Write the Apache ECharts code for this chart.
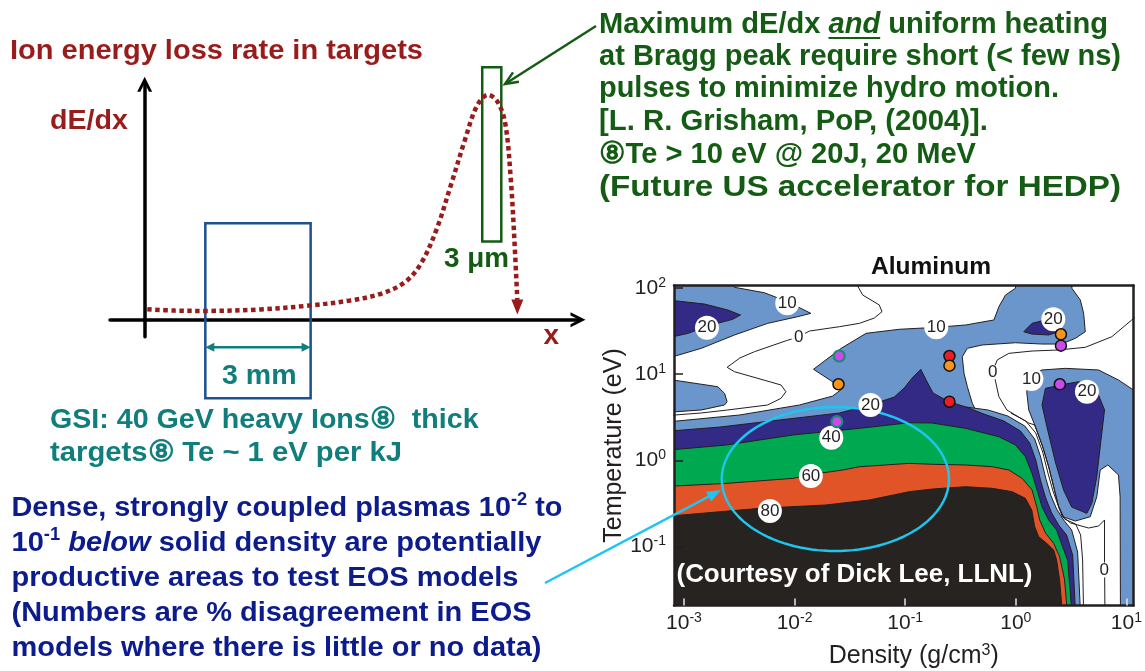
<!DOCTYPE html>
<html>
<head>
<meta charset="utf-8">
<title>Ion energy loss rate and EOS disagreement map</title>
<script src="https://cdn.jsdelivr.net/npm/echarts@6/dist/echarts.min.js"></script>
<style>
html, body { margin: 0; padding: 0; background: #ffffff; }
#chart { width: 1145px; height: 671px; }
</style>
</head>
<body>
<div id="chart"></div>
<script>
// ---------- Bragg-curve schematic (arbitrary units: x = depth, y = dE/dx) ----------
const braggCurve = [
  [0.06, 0.38], [0.70, 0.33], [1.43, 0.32], [2.66, 0.37], [3.73, 0.50], [4.74, 0.69],
  [5.49, 0.95], [6.02, 1.36], [6.38, 2.02], [6.73, 3.20], [7.08, 4.87], [7.39, 6.41],
  [7.66, 7.60], [7.92, 8.02], [8.14, 7.78], [8.32, 7.01], [8.45, 4.99], [8.54, 2.61], [8.60, 0.71]
];
const thickTargetX = [1.40, 3.83];
const thickTargetY = [-2.79, 3.44];
const peakTargetX = [7.79, 8.23];
const peakTargetY = [2.79, 9.00];
const thickTargetSpanY = -0.98;

// ---------- Aluminum EOS disagreement map: [log10 density (g/cm3), log10 temperature (eV)] ----------
const densityTicks = [-3, -2, -1, 0, 1];
const temperatureTicks = [-1, 0, 1, 2];

// regions below 10 % disagreement
const whiteUpperLeft = [
  [-2.586, 2.2], [0.009, 2.2], [-0.003, 1.997], [-0.093, 1.919], [-0.153, 1.783], [-0.198, 1.629],
  [-0.453, 1.571], [-0.714, 1.544], [-1.054, 1.521], [-1.354, 1.474], [-1.579, 1.300], [-1.829, 1.057],
  [-1.565, 0.836], [-1.655, 0.747], [-1.955, 0.643], [-2.495, 0.527], [-3.2, 0.44], [-3.2, 0.553],
  [-2.844, 0.585], [-2.633, 0.643], [-2.610, 0.681], [-2.633, 0.778], [-2.694, 0.855], [-3.2, 0.952],
  [-3.2, 1.165], [-2.844, 1.300], [-2.543, 1.455], [-2.243, 1.590], [-1.973, 1.667], [-1.853, 1.706],
  [-2.063, 1.841], [-2.273, 1.945], [-2.543, 2.008]
];
const whiteRight = [
  [0.507, 2.2], [1.2, 2.2], [1.2, -1.8], [0.207, -1.8], [-0.063, -0.459], [-0.213, 0.237],
  [-0.258, 0.314], [-0.318, 0.469], [-0.393, 0.662], [-0.438, 0.855], [-0.468, 1.010], [-0.484, 1.203],
  [-0.438, 1.300], [-0.304, 1.339], [-0.003, 1.365], [0.237, 1.350], [0.412, 1.350], [0.538, 1.416],
  [0.628, 1.493], [0.613, 1.707], [0.583, 1.861], [0.507, 1.997]
];
// 10-20 % pocket at high density
const lightRight = [
  [0.099, 0.794], [0.117, 0.933], [0.171, 1.014], [0.237, 1.049], [0.448, 1.068], [0.748, 1.049],
  [0.928, 0.933], [1.2, 0.70], [1.2, -1.8], [0.946, -1.8], [0.943, -0.421], [0.928, -0.169],
  [0.832, -0.053], [0.763, -0.111], [0.732, -0.421], [0.673, -0.653], [0.538, -0.703], [0.423, -0.653],
  [0.387, -0.537], [0.342, -0.305], [0.297, -0.073], [0.243, 0.159], [0.171, 0.411], [0.117, 0.585]
];
const lightEdge = [
  [-0.450, 0.619], [-0.252, 0.585], [-0.072, 0.515], [0.081, 0.399], [0.171, 0.248], [0.225, 0.039],
  [0.270, -0.204], [0.315, -0.401], [0.369, -0.564], [0.432, -0.691], [0.505, -0.807], [0.559, -1.063],
  [0.586, -1.8], [-0.514, -1.8]
];
// 20-40 %
const navyTopLeft = [
  [-3.2, 1.869], [-2.814, 1.814], [-2.604, 1.745], [-2.489, 1.687], [-2.559, 1.637],
  [-2.754, 1.571], [-2.964, 1.474], [-3.2, 1.405]
];
const navyTopRight = [
  [0.072, 1.493], [0.147, 1.590], [0.268, 1.629], [0.358, 1.590], [0.387, 1.493], [0.297, 1.455], [0.147, 1.466]
];
const navyRight = [
  [0.268, 0.836], [0.448, 0.886], [0.568, 0.913], [0.718, 0.855], [0.778, 0.662], [0.802, 0.585],
  [0.763, 0.159], [0.732, -0.189], [0.687, -0.498], [0.642, -0.614], [0.505, -0.541], [0.432, -0.343],
  [0.360, -0.030], [0.288, 0.353], [0.237, 0.643]
];
const navyBand = [
  [-3.2, 0.333], [-2.676, 0.387], [-2.135, 0.469], [-1.595, 0.550], [-1.315, 0.643], [-1.099, 0.735],
  [-1.009, 0.840], [-0.937, 0.956], [-0.859, 1.057], [-0.811, 0.933], [-0.748, 0.782], [-0.604, 0.681],
  [-0.450, 0.619], [-0.288, 0.538], [-0.108, 0.457], [0.042, 0.341], [0.126, 0.202], [0.180, 0.005],
  [0.225, -0.239], [0.270, -0.436], [0.324, -0.610], [0.387, -0.749], [0.459, -0.865], [0.514, -1.097],
  [0.541, -1.8], [-3.2, -1.8]
];
// 40-60 %
const greenBand = [
  [-3.2, 0.113], [-2.615, 0.179], [-2.015, 0.295], [-1.414, 0.372], [-0.964, 0.437], [-0.757, 0.434],
  [-0.453, 0.372], [-0.153, 0.275], [-0.003, 0.179], [0.087, 0.043], [0.147, -0.150], [0.192, -0.343],
  [0.237, -0.537], [0.297, -0.691], [0.369, -0.807], [0.423, -1.001], [0.468, -1.155], [0.509, -1.8], [-3.2, -1.8]
];
// 60-80 %
const orangeBand = [
  [-3.2, -0.305], [-2.615, -0.266], [-2.015, -0.208], [-1.775, -0.150], [-1.565, -0.111], [-1.414, -0.073],
  [-0.964, -0.034], [-0.754, -0.045], [-0.453, -0.053], [-0.213, -0.073], [-0.063, -0.111], [0.057, -0.208],
  [0.147, -0.343], [0.189, -0.537], [0.216, -0.691], [0.270, -0.846], [0.342, -0.962], [0.396, -1.117],
  [0.441, -1.387], [0.468, -1.8], [-3.2, -1.8]
];
// above 80 %
const blackBand = [
  [-3.2, -0.653], [-2.315, -0.556], [-1.715, -0.517], [-1.324, -0.459], [-0.964, -0.363], [-0.754, -0.332],
  [-0.453, -0.305], [-0.213, -0.324], [-0.033, -0.363], [0.087, -0.440], [0.144, -0.575], [0.171, -0.769],
  [0.207, -0.885], [0.279, -0.962], [0.342, -1.039], [0.369, -1.155], [0.396, -1.387], [0.423, -1.8], [-3.2, -1.8]
];
// 0 % contours
const zeroLineLeft = [
  [-1.44, 2.05], [-1.385, 1.919], [-1.234, 1.803], [-1.210, 1.725], [-1.279, 1.652], [-1.414, 1.590],
  [-1.595, 1.551], [-1.865, 1.501], [-1.961, 1.435], [-2.075, 1.389], [-2.363, 1.261], [-2.495, 1.188],
  [-2.610, 1.080], [-2.543, 1.029], [-2.123, 0.875], [-2.078, 0.797], [-2.123, 0.720], [-2.243, 0.643],
  [-2.604, 0.585], [-2.846, 0.550], [-3.2, 0.515]
];
const zeroLineRight = [
  [1.15, 1.72], [1.048, 1.629], [0.868, 1.435], [0.628, 1.312], [0.387, 1.281], [0.147, 1.269],
  [-0.063, 1.242], [-0.168, 1.165], [-0.204, 1.049], [-0.189, 0.952], [-0.153, 0.739], [-0.081, 0.585],
  [0.027, 0.503], [0.117, 0.434], [0.171, 0.411], [0.243, 0.159], [0.297, -0.073], [0.342, -0.305],
  [0.387, -0.537], [0.423, -0.653], [0.495, -0.726], [0.658, -0.784], [0.748, -0.761], [0.802, -0.691],
  [0.802, -1.155], [0.806, -1.8]
];
const channelLine = [
  [-0.045, 0.550], [0.090, 0.457], [0.180, 0.318], [0.243, 0.097], [0.288, -0.135], [0.333, -0.343],
  [0.378, -0.506], [0.441, -0.680], [0.541, -0.738], [0.586, -0.865], [0.604, -1.155], [0.613, -1.8]
];
// contour value labels [log10 rho, log10 T, % disagreement]
const contourLabels = [
  [-2.066, 1.823, 10], [-2.792, 1.539, 20], [-1.962, 1.428, 0], [-0.719, 1.544, 10], [0.339, 1.637, 20],
  [-0.209, 1.022, 0], [0.141, 0.944, 10], [0.643, 0.797, 20], [-1.314, 0.643, 20], [-1.668, 0.263, 40],
  [-1.853, -0.181, 60], [-2.223, -0.587, 80], [0.799, -1.271, 0]
];
// experimental points
const redPoints = [[-0.600, 1.211], [-0.600, 0.681]];
const orangePoints = [[-1.603, 0.883], [-0.600, 1.099], [0.408, 1.463]];
const purplePoints = [[0.408, 1.331], [0.398, 0.883]];
const purpleRingPoints = [[-1.596, 1.211], [-1.618, 0.449]];
// strongly coupled regime highlighted on the map
const regimeCenter = [-1.631, -0.216];
const regimeHalfAxes = [1.027, 0.835];

// ---------- styling ----------
const FONT = '"Liberation Sans", Arial, Helvetica, sans-serif';
const COL = {
  ink: '#231f20', lightBlue: '#6a96cb', navy: '#332a85', green: '#00a84f', orange: '#e15427',
  black: '#272320', cyan: '#1ec6ef', red: '#ed1c24', dotOrange: '#f7941d', purple: '#c94bea', ring: '#1b8a78',
  darkRed: '#991c1c', darkGreen: '#145c14', teal: '#0f7e7c', navyText: '#0c1c8c', boxBlue: '#1d4f91'
};

const measureCtx = document.createElement('canvas').getContext('2d');
function measure(text, size, weight, style) {
  measureCtx.font = style + ' ' + weight + ' ' + size + 'px ' + FONT;
  return measureCtx.measureText(text).width;
}

// one line of slide text, fitted to a given width
function textLine(segs, left, midY, width, size, color) {
  const lh = Math.round(size * 1.2);
  const kinds = {
    n: { fontSize: size, fontWeight: 'bold', fontStyle: 'normal', lineHeight: lh },
    i: { fontSize: size, fontWeight: 'bold', fontStyle: 'italic', lineHeight: lh },
    s: { fontSize: Math.round(size * 0.62), fontWeight: 'bold', fontStyle: 'normal', lineHeight: Math.round(size * 0.62), verticalAlign: 'top' }
  };
  let natural = 0;
  const spans = [];
  segs.forEach(([t, k]) => {
    const d = kinds[k];
    const w = measure(t, d.fontSize, d.fontWeight, d.fontStyle);
    spans.push([natural, natural + w]);
    natural += w;
  });
  const sx = width ? width / natural : 1;
  const rich = {};
  Object.keys(kinds).forEach(k => { rich[k] = Object.assign({ fontFamily: FONT, fill: color }, kinds[k]); });
  return {
    el: {
      type: 'text', x: left, y: midY, scaleX: sx, z: 100, silent: true,
      style: {
        text: segs.map(([t, k]) => '{' + k + '|' + t + '}').join(''), rich,
        fill: color, fontFamily: FONT, fontSize: size, fontWeight: 'bold', align: 'left', verticalAlign: 'middle'
      }
    },
    spans: spans.map(([a, b]) => [left + a * sx, left + b * sx])
  };
}

function arrowEls(x1, y1, x2, y2, color, width, headLen, headWid, open) {
  const a = Math.atan2(y2 - y1, x2 - x1), c = Math.cos(a), s = Math.sin(a);
  const bx = x2 - headLen * c, by = y2 - headLen * s;
  const l = [bx - headWid / 2 * s, by + headWid / 2 * c], r = [bx + headWid / 2 * s, by - headWid / 2 * c];
  if (open) {
    return [
      { type: 'line', z: 100, silent: true, shape: { x1, y1, x2, y2 }, style: { stroke: color, lineWidth: width } },
      { type: 'polyline', z: 100, silent: true, shape: { points: [l, [x2, y2], r] }, style: { stroke: color, lineWidth: width, fill: 'none' } }
    ];
  }
  return [
    { type: 'line', z: 100, silent: true, shape: { x1, y1, x2: bx + 2 * c, y2: by + 2 * s }, style: { stroke: color, lineWidth: width } },
    { type: 'polygon', z: 100, silent: true, shape: { points: [[x2, y2], l, r] }, style: { fill: color } }
  ];
}

// ---------- series builders ----------
function regionSeries(points, fill, z) {
  return {
    type: 'custom', xAxisIndex: 0, yAxisIndex: 0, clip: true, silent: true, z,
    data: points, encode: { x: 0, y: 1 },
    renderItem(params, api) {
      if (params.dataIndex !== 0) return null;
      return {
        type: 'polygon',
        shape: { points: points.map(p => api.coord(p)) },
        style: { fill, stroke: COL.ink, lineWidth: 1 }
      };
    }
  };
}
function contourLine(points) {
  return {
    type: 'line', xAxisIndex: 0, yAxisIndex: 0, data: points, symbol: 'none', silent: true, z: 10,
    clip: true, lineStyle: { color: COL.ink, width: 1 }
  };
}
function pointSeries(points, fill, border, borderWidth) {
  return {
    type: 'scatter', xAxisIndex: 0, yAxisIndex: 0, data: points, symbol: 'circle', symbolSize: 11, silent: true, z: 13,
    itemStyle: { color: fill, borderColor: border, borderWidth, opacity: 1 }
  };
}

const powerLabel = v => '{b|10}{e|' + v + '}';
const powerRich = {
  b: { fontSize: 21, lineHeight: 24, color: COL.ink, fontFamily: FONT },
  e: { fontSize: 14, lineHeight: 12, verticalAlign: 'top', color: COL.ink, fontFamily: FONT }
};
const frameLine = { show: true, onZero: false, lineStyle: { color: COL.ink, width: 2.5 } };
const CHEVRON = 'path://M0,15 L7.5,0 L15,15 L11.8,15 L7.5,6.2 L3.2,15 Z';
const schematicAxis = {
  gridIndex: 1, type: 'value',
  axisLine: { show: true, onZero: true, symbol: ['none', CHEVRON], symbolSize: [15, 15], lineStyle: { color: '#000', width: 3.5 } },
  axisTick: { show: false }, axisLabel: { show: false }, splitLine: { show: false }
};

// ---------- slide text ----------
const graphics = [];
function addText(segs, left, midY, width, size, color) {
  const t = textLine(segs, left, midY, width, size, color);
  graphics.push(t.el);
  return t;
}
addText([['Ion energy loss rate in targets', 'n']], 10, 51, 413, 28.5, COL.darkRed);
addText([['dE/dx', 'n']], 50, 121, 78, 28.5, COL.darkRed);
addText([['x', 'n']], 543.5, 336, null, 28, COL.darkRed);
addText([['3 \u03bcm', 'n']], 444, 259.5, 65, 28, COL.darkGreen);
addText([['3 mm', 'n']], 222, 376.5, 74.6, 28, COL.teal);

const GS = 29.5;
const first = addText([['Maximum dE/dx ', 'n'], ['and', 'i'], [' uniform heating', 'n']], 599, 25, 509, GS, COL.darkGreen);
graphics.push({ type: 'line', z: 100, silent: true,
  shape: { x1: first.spans[1][0], y1: 25 + 13, x2: first.spans[1][1], y2: 25 + 13 },
  style: { stroke: COL.darkGreen, lineWidth: 2 } });
addText([['at Bragg peak require short (< few ns)', 'n']], 599, 57, 522, GS, COL.darkGreen);
addText([['pulses to minimize hydro motion.', 'n']], 599, 89, 460, GS, COL.darkGreen);
addText([['[L. R. Grisham, PoP, (2004)].', 'n']], 599, 122, 389, GS, COL.darkGreen);
addText([['\u2467Te > 10 eV @ 20J, 20 MeV', 'n']], 599, 155, 377, GS, COL.darkGreen);
addText([['(Future US accelerator for HEDP)', 'n']], 599, 188, 522, GS, COL.darkGreen);

addText([['GSI: 40 GeV heavy Ions\u2467  thick', 'n']], 50, 420, 428.6, 28.5, COL.teal);
addText([['targets\u2467 Te ~ 1 eV per kJ', 'n']], 50, 453.3, 352, 28.5, COL.teal);

addText([['Dense, strongly coupled plasmas 10', 'n'], ['-2', 's'], [' to', 'n']], 11.5, 508.3, 551, 28.5, COL.navyText);
addText([['10', 'n'], ['-1', 's'], [' ', 'n'], ['below', 'i'], [' solid density are potentially', 'n']], 11.5, 543.3, 530, 28.5, COL.navyText);
addText([['productive areas to test EOS models', 'n']], 11.5, 578.3, 507, 28.5, COL.navyText);
addText([['(Numbers are % disagreement in EOS', 'n']], 11.5, 613.3, 520, 28.5, COL.navyText);
addText([['models where there is little or no data)', 'n']], 11.5, 648.3, 530, 28.5, COL.navyText);

addText([['Aluminum', 'n']], 871, 267, 120, 24, '#111111');
addText([['(Courtesy of Dick Lee, LLNL)', 'n']], 676.5, 575, 356, 26, '#ffffff');

graphics.push(...arrowEls(596, 26, 505, 84, COL.darkGreen, 2.5, 13, 11, true));
graphics.push(...arrowEls(545, 583, 721, 490, COL.cyan, 2.5, 14, 11, false));

// ---------- option ----------
const option = {
  animation: false,
  backgroundColor: '#ffffff',
  grid: [
    { left: 674, top: 285.5, width: 461, height: 320, show: true, backgroundColor: COL.lightBlue, borderWidth: 0 },
    { left: 110, top: 84.2, width: 468, height: 252.5, show: false }
  ],
  xAxis: [
    {
      gridIndex: 0, type: 'value', min: -3.09, max: 1.063, position: 'bottom', z: 50,
      axisLine: frameLine,
      axisTick: { show: true, inside: true, length: 7, customValues: densityTicks, lineStyle: { color: '#e6e6e6', width: 1.5 } },
      axisLabel: { show: true, customValues: densityTicks, formatter: powerLabel, rich: powerRich, margin: 6 },
      splitLine: { show: false },
      name: '{a|Density (g/cm}{s|3}{a|)}', nameLocation: 'middle', nameGap: 37,
      nameTextStyle: {
        padding: [0, 0, 0, 20],
        rich: {
          a: { fontSize: 25, lineHeight: 28, color: COL.ink, fontFamily: FONT },
          s: { fontSize: 16, lineHeight: 16, verticalAlign: 'top', color: COL.ink, fontFamily: FONT }
        }
      }
    },
    {
      gridIndex: 0, type: 'value', min: -3.09, max: 1.063, position: 'top', z: 50,
      axisLine: frameLine, axisTick: { show: false }, axisLabel: { show: false }, splitLine: { show: false }
    },
    Object.assign({ min: -0.8, max: 10 }, schematicAxis)
  ],
  yAxis: [
    {
      gridIndex: 0, type: 'value', min: -1.683, max: 2.029, position: 'left', z: 50,
      axisLine: frameLine,
      axisTick: { show: true, inside: true, length: 9, customValues: temperatureTicks, lineStyle: { color: COL.ink, width: 1.5 } },
      axisLabel: { show: true, customValues: temperatureTicks, formatter: powerLabel, rich: powerRich, margin: 8 },
      splitLine: { show: false },
      name: 'Temperature (eV)', nameLocation: 'middle', nameGap: 40,
      nameTextStyle: { fontSize: 25, color: COL.ink, fontFamily: FONT }
    },
    {
      gridIndex: 0, type: 'value', min: -1.683, max: 2.029, position: 'right', z: 50,
      axisLine: frameLine, axisTick: { show: false }, axisLabel: { show: false }, splitLine: { show: false }
    },
    Object.assign({ min: -0.6, max: 8.4 }, schematicAxis)
  ],
  series: [
    regionSeries(whiteUpperLeft, '#ffffff', 3),
    regionSeries(whiteRight, '#ffffff', 3),
    regionSeries(lightRight, COL.lightBlue, 4),
    regionSeries(navyTopLeft, COL.navy, 5),
    regionSeries(navyTopRight, COL.navy, 5),
    regionSeries(navyRight, COL.navy, 5),
    regionSeries(lightEdge, COL.lightBlue, 5),
    regionSeries(navyBand, COL.navy, 6),
    regionSeries(greenBand, COL.green, 7),
    regionSeries(orangeBand, COL.orange, 8),
    regionSeries(blackBand, COL.black, 9),
    contourLine(zeroLineLeft),
    contourLine(zeroLineRight),
    contourLine(channelLine),
    {
      type: 'custom', xAxisIndex: 0, yAxisIndex: 0, clip: true, silent: true, z: 11,
      data: [regimeCenter], encode: { x: 0, y: 1 },
      renderItem(params, api) {
        const c = api.coord(regimeCenter);
        const size = api.size(regimeHalfAxes, regimeCenter);
        const pts = [];
        for (let i = 0; i <= 120; i++) {
          const t = i / 120 * Math.PI * 2;
          pts.push([c[0] + size[0] * Math.cos(t), c[1] + size[1] * Math.sin(t)]);
        }
        return { type: 'polyline', shape: { points: pts }, style: { stroke: COL.cyan, lineWidth: 2.5, fill: 'none' } };
      }
    },
    {
      type: 'scatter', xAxisIndex: 0, yAxisIndex: 0, silent: true, z: 12,
      data: contourLabels.map(d => ({ value: d, symbolSize: d[2] === 0 ? 15 : 24 })),
      symbol: 'circle', itemStyle: { color: '#ffffff', opacity: 1 },
      label: { show: true, position: 'inside', formatter: p => String(p.value[2]), color: COL.ink, fontSize: 17, fontFamily: FONT }
    },
    pointSeries(redPoints, COL.red, '#111111', 1.5),
    pointSeries(orangePoints, COL.dotOrange, '#111111', 1.5),
    pointSeries(purplePoints, COL.purple, '#111111', 1.5),
    pointSeries(purpleRingPoints, COL.purple, COL.ring, 2.2),

    // schematic
    {
      type: 'custom', xAxisIndex: 2, yAxisIndex: 2, clip: false, silent: true, z: 4,
      data: [[thickTargetX[0], thickTargetY[0]]], encode: { x: 0, y: 1 },
      renderItem(params, api) {
        const box = (xs, ys, color) => {
          const p0 = api.coord([xs[0], ys[1]]), p1 = api.coord([xs[1], ys[0]]);
          return { type: 'rect', shape: { x: p0[0], y: p0[1], width: p1[0] - p0[0], height: p1[1] - p0[1] },
            style: { fill: 'none', stroke: color, lineWidth: 2.5 } };
        };
        const a = api.coord([thickTargetX[0], thickTargetSpanY]);
        const b = api.coord([thickTargetX[1], thickTargetSpanY]);
        const h = 9, w = 4.5;
        return {
          type: 'group',
          children: [
            box(thickTargetX, thickTargetY, COL.boxBlue),
            box(peakTargetX, peakTargetY, COL.darkGreen),
            { type: 'line', shape: { x1: a[0] + h - 1, y1: a[1], x2: b[0] - h + 1, y2: b[1] }, style: { stroke: COL.teal, lineWidth: 2.5 } },
            { type: 'polygon', shape: { points: [[a[0], a[1]], [a[0] + h, a[1] - w], [a[0] + h, a[1] + w]] }, style: { fill: COL.teal } },
            { type: 'polygon', shape: { points: [[b[0], b[1]], [b[0] - h, b[1] - w], [b[0] - h, b[1] + w]] }, style: { fill: COL.teal } }
          ]
        };
      }
    },
    {
      type: 'line', xAxisIndex: 2, yAxisIndex: 2, data: braggCurve, smooth: 0.35, symbol: 'none', silent: true, z: 5,
      clip: false, lineStyle: { color: COL.darkRed, width: 4.5, type: [4.5, 3.5], cap: 'butt' }
    },
    {
      type: 'scatter', xAxisIndex: 2, yAxisIndex: 2, data: [braggCurve[braggCurve.length - 1]], silent: true, z: 5,
      symbol: 'path://M0,0 L10,0 L5,13 Z', symbolSize: [12, 15], symbolOffset: [0, 7],
      itemStyle: { color: COL.darkRed, opacity: 1 }
    }
  ],
  graphic: { elements: graphics }
};

const chart = echarts.init(document.getElementById('chart'), null, { renderer: 'canvas' });
chart.setOption(option);
</script>
</body>
</html>
